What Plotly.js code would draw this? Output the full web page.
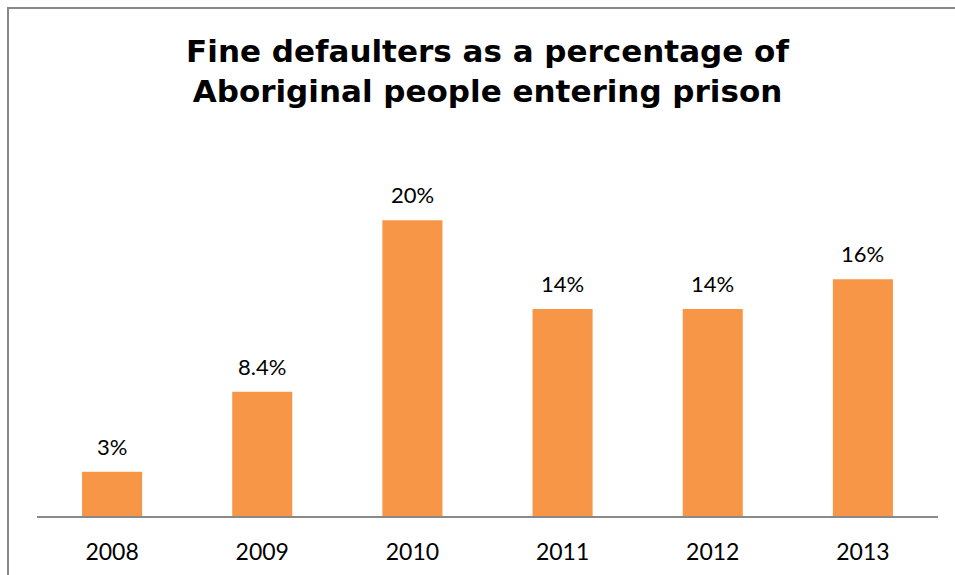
<!DOCTYPE html>
<html>
<head>
<meta charset="utf-8">
<script src="https://cdn.plot.ly/plotly-3.0.1.min.js"></script>
<style>
  html, body { margin: 0; padding: 0; background: #fff; }
  #wrap { position: relative; width: 955px; height: 575px; }
  #chart { position: absolute; left: 0; top: 0; width: 955px; height: 575px; }
  #frame { position: absolute; left: 7px; top: 7px; width: 948px; height: 568px;
           border-left: 2px solid #888888; border-top: 2px solid #888888; pointer-events: none; box-sizing: border-box; }
</style>
</head>
<body>
<div id="wrap">
  <div id="chart"></div>
  <div id="frame"></div>
</div>
<script>
const years = ["2008", "2009", "2010", "2011", "2012", "2013"];
const values = [3, 8.4, 20, 14, 14, 16];
const labels = ["3%", "8.4%", "20%", "14%", "14%", "16%"];
const titleText = "Fine defaulters as a percentage of<br>Aboriginal people entering prison";

const labelFont = { family: "Lato, 'Open Sans', sans-serif", size: 22, color: "#000000" };
const tickFont = { family: "Lato, 'Open Sans', sans-serif", size: 23, color: "#000000" };

const annotations = years.map((y, i) => ({
  x: i, y: values[i], xref: "x", yref: "y",
  text: labels[i], showarrow: false,
  xanchor: "center", yanchor: "bottom", yshift: 10,
  font: labelFont
}));

const trace = {
  type: "bar",
  x: years,
  y: values,
  marker: { color: "#F79646" },
  hoverinfo: "skip"
};

const layout = {
  width: 955, height: 575,
  margin: { l: 37, r: 17, t: 161, b: 59 },
  paper_bgcolor: "#ffffff",
  plot_bgcolor: "#ffffff",
  bargap: 0.6,
  showlegend: false,
  title: {
    text: titleText,
    font: { family: "'DejaVu Sans', 'Liberation Sans', sans-serif", size: 31, color: "#000000", weight: "bold" },
    x: 0.5, xref: "paper", xanchor: "center",
    y: 1 - 62 / 575, yref: "container", yanchor: "top"
  },
  xaxis: {
    type: "category",
    range: [-0.5, years.length - 0.5],
    showline: true, linecolor: "#898989", linewidth: 1.5,
    showgrid: false, zeroline: false, ticks: "",
    tickfont: tickFont,
    ticklabelstandoff: 15
  },
  yaxis: {
    range: [0, 24],
    visible: false,
    showgrid: false, zeroline: false
  },
  annotations: annotations
};

Plotly.newPlot("chart", [trace], layout, { displayModeBar: false, staticPlot: true });
</script>
</body>
</html>
